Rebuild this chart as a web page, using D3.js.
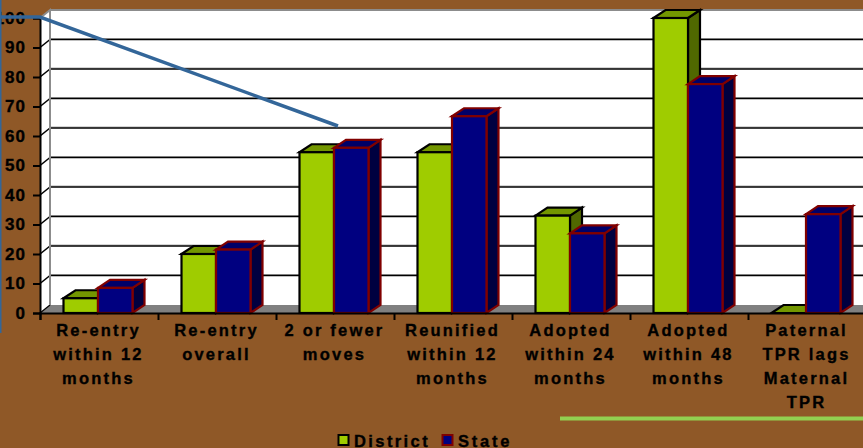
<!DOCTYPE html>
<html><head><meta charset="utf-8">
<script src="https://cdn.jsdelivr.net/npm/d3@7"></script>
<style>html,body{margin:0;padding:0;background:#8f5827;overflow:hidden}
text{font-family:"Liberation Sans",Arial,sans-serif;font-weight:bold;fill:#000;stroke:#000;stroke-width:.35px}</style>
</head><body><svg id="c" width="863" height="448"></svg>
<script>
const categories=[["Re-entry","within 12","months"],["Re-entry","overall"],["2 or fewer","moves"],["Reunified","within 12","months"],["Adopted","within 24","months"],["Adopted","within 48","months"],["Paternal","TPR lags","Maternal","TPR"]];
const district=[5,20,54.5,54.5,33,100,0];
const state=[8.5,21.5,56,66.7,27,77.6,33.5];
const yTicks=[0,10,20,30,40,50,60,70,80,90,100];
const seriesNames=["District","State"];

const svg=d3.select("#c");
const dx=10,dy=8,bx=12;
const y=d3.scaleLinear().domain([0,100]).range([313,18]);
const x=d3.scaleBand().domain(d3.range(categories.length)).range([40,866]);
const inner=d3.scaleBand().domain([0,1]).range([23.5,92.5]);
const L=40,R=863,T=y(100)-dy;

// walls
svg.append("polygon").attr("points",[[L,y(100)],[L+dx,T],[R,T],[R,y(0)-dy],[L,y(0)]].join(" ")).attr("fill","#fff");
svg.append("polygon").attr("points",[[L,y(0)],[L+dx,y(0)-dy],[R,y(0)-dy],[R,y(0)]].join(" ")).attr("fill","#808080");
// gridlines
yTicks.slice(1,-1).forEach(v=>{
  svg.append("line").attr("x1",L+dx).attr("x2",R).attr("y1",y(v)-dy-1).attr("y2",y(v)-dy-1).attr("stroke","#aaa").attr("stroke-width",1);
  svg.append("line").attr("x1",L+dx).attr("x2",R).attr("y1",y(v)-dy).attr("y2",y(v)-dy).attr("stroke","#000").attr("stroke-width",1.6);
  svg.append("line").attr("x1",L).attr("x2",L+dx).attr("y1",y(v)).attr("y2",y(v)-dy).attr("stroke","#000").attr("stroke-width",1.6);
});
svg.append("line").attr("x1",L).attr("x2",L+dx).attr("y1",y(0)).attr("y2",y(0)-dy).attr("stroke","#000").attr("stroke-width",1.2);
svg.append("path").attr("d",`M${L},${y(100)}L${L+dx},${T}V${y(0)-dy}M${L+dx},${T}H${R}`).attr("fill","none").attr("stroke","#8c8c8c").attr("stroke-width",2);

// bars
const styles=[{f:"#9fcc00",t:"#739600",s:"#506800",k:"#000"},{f:"#000080",t:"#000068",s:"#000040",k:"#800000"}];
function bar(cat,ser,v){
  const st=styles[ser],x0=x(cat)+inner(ser),w=inner.bandwidth(),y0=y(v),b=y(0);
  const g=svg.append("g").attr("stroke",st.k).attr("stroke-width",2.2).attr("stroke-linejoin","miter");
  if(v>0){
    g.append("polygon").attr("points",[[x0+w,y0],[x0+w+bx,y0-dy],[x0+w+bx,b-dy],[x0+w,b]].join(" ")).attr("fill",st.s);
  }
  g.append("polygon").attr("points",[[x0,y0],[x0+bx,y0-dy],[x0+w+bx,y0-dy],[x0+w,y0]].join(" ")).attr("fill",st.t);
  if(v>0) g.append("rect").attr("x",x0).attr("y",y0).attr("width",w).attr("height",b-y0).attr("fill",st.f);
}
categories.forEach((c,i)=>{bar(i,0,district[i]);bar(i,1,state[i]);});

// axes
const ya=svg.append("g").attr("transform",`translate(${L},0)`).call(d3.axisLeft(y).tickValues(yTicks).tickSize(7).tickPadding(7));
ya.selectAll("path,line").attr("stroke","#000").attr("stroke-width",2);
ya.selectAll("text").style("font-size","17px").style("letter-spacing","1px").attr("font-family",null).attr("fill","#000");
const xa=svg.append("g").attr("transform",`translate(0,${y(0)})`).call(d3.axisBottom(d3.scaleLinear().domain([0,7]).range([40,866])).tickValues(d3.range(8)).tickSize(7).tickFormat(""));
xa.selectAll("path,line").attr("stroke","#000").attr("stroke-width",2);

// category labels
categories.forEach((c,i)=>{
  const t=svg.append("text").attr("text-anchor","middle").style("font-size","16.5px").style("letter-spacing","2.2px");
  c.forEach((ln,j)=>t.append("tspan").attr("x",x(i)+x.bandwidth()/2-0.5).attr("y",336+j*24).text(ln));
});

// drawn overlays
svg.append("polyline").attr("points","0,17 40,17 338,126").attr("fill","none").attr("stroke","#336699").attr("stroke-width",3.5);
svg.append("line").attr("x1",0.5).attr("x2",0.5).attr("y1",0).attr("y2",333).attr("stroke","#336699").attr("stroke-width",2);
svg.append("line").attr("x1",560).attr("x2",863).attr("y1",418.5).attr("y2",418.5).attr("stroke","#92d050").attr("stroke-width",4);

// legend
const lg=[{x:337.5,tx:354},{x:441.5,tx:458},{}];
seriesNames.forEach((n,i)=>{
  svg.append("rect").attr("x",lg[i].x+1).attr("y",435).attr("width",10).attr("height",10).attr("fill",styles[i].f).attr("stroke",styles[i].k).attr("stroke-width",2);
  svg.append("text").attr("x",lg[i].tx).attr("y",447).style("font-size","16.5px").style("letter-spacing",i?"2.8px":"2.4px").text(n);
});
</script></body></html>
